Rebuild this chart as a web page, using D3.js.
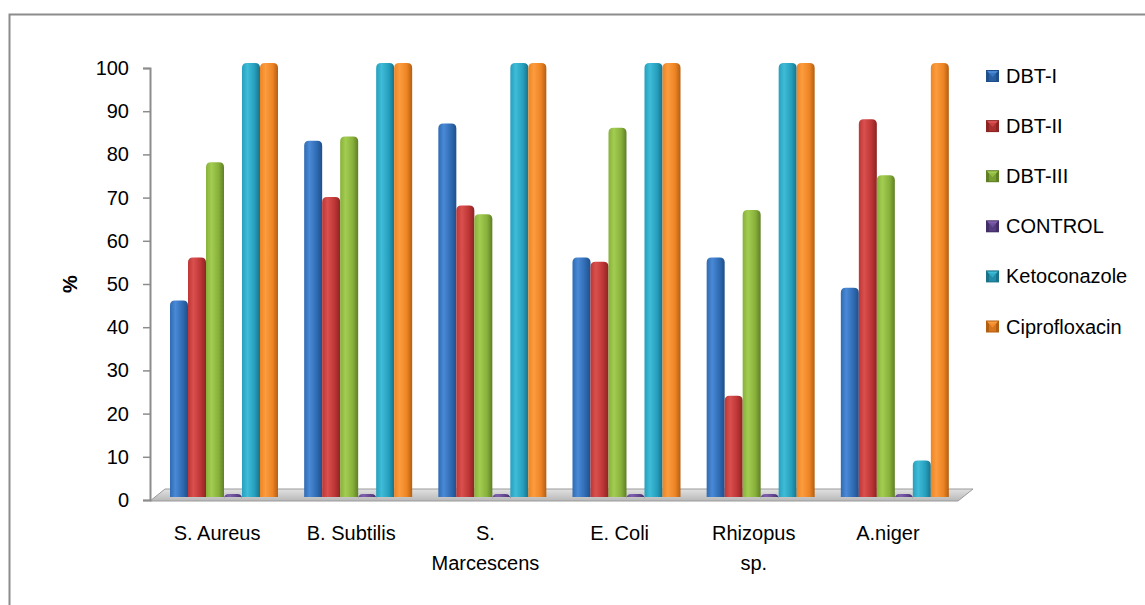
<!DOCTYPE html>
<meta charset="utf-8">
<script src="https://d3js.org/d3.v7.min.js"></script>
<style>
  body { margin: 0; background: #fff; }
  text { font-family: "Liberation Sans", Arial, sans-serif; fill: #000; }
</style>
<div id="chart"></div>
<script>
// data
var categories = ["S. Aureus", "B. Subtilis", "S. Marcescens", "E. Coli", "Rhizopus sp.", "A.niger"];
var series = ["DBT-I", "DBT-II", "DBT-III", "CONTROL", "Ketoconazole", "Ciprofloxacin"];
var dbt1   = [45, 82, 86, 55, 55, 48];
var dbt2   = [55, 69, 67, 54, 23, 87];
var dbt3   = [77, 83, 65, 85, 66, 74];
var control = [0, 0, 0, 0, 0, 0];
var keto   = [100, 100, 100, 100, 100, 8];
var cipro  = [100, 100, 100, 100, 100, 100];
var yTicks = [0, 10, 20, 30, 40, 50, 60, 70, 80, 90, 100];
// labels broken on two lines like the original
var catLines = [["S. Aureus"], ["B. Subtilis"], ["S.", "Marcescens"], ["E. Coli"], ["Rhizopus", "sp."], ["A.niger"]];

var values = [dbt1, dbt2, dbt3, control, keto, cipro];
var colors = [
  {base: "#2f6bb3", light: "#4a89d6", dark: "#1f4f8a"},
  {base: "#bd3535", light: "#d9504e", dark: "#8c2424"},
  {base: "#88b13b", light: "#a3cc52", dark: "#5f7f25"},
  {base: "#62458f", light: "#7f5fae", dark: "#432d66"},
  {base: "#259fbd", light: "#3fbcd8", dark: "#19728a"},
  {base: "#ee8424", light: "#fb9c3e", dark: "#b35f12"}
];

var W = 1145, H = 605;
var svg = d3.select("#chart").append("svg")
  .attr("width", W).attr("height", H);

var defs = svg.append("defs");
colors.forEach(function(c, i) {
  var g = defs.append("linearGradient").attr("id", "bar" + i)
    .attr("x1", "0%").attr("x2", "100%").attr("y1", "0%").attr("y2", "0%");
  g.append("stop").attr("offset", "0%").attr("stop-color", c.base);
  g.append("stop").attr("offset", "30%").attr("stop-color", c.light);
  g.append("stop").attr("offset", "70%").attr("stop-color", c.base);
  g.append("stop").attr("offset", "100%").attr("stop-color", c.dark);
});
var fg = defs.append("linearGradient").attr("id", "floor")
  .attr("x1", "0%").attr("x2", "0%").attr("y1", "0%").attr("y2", "100%");
fg.append("stop").attr("offset", "0%").attr("stop-color", "#e2e2e2");
fg.append("stop").attr("offset", "100%").attr("stop-color", "#b8b8b8");

// outer frame
svg.append("rect")
  .attr("x", 9.5).attr("y", 14.5).attr("width", 1200).attr("height", 700)
  .attr("fill", "none").attr("stroke", "#8c8c8c").attr("stroke-width", 2);

var x = d3.scaleBand().domain(categories).range([150, 955]);
var xs = d3.scaleBand().domain(series).range([20, 128]);
var y = d3.scaleLinear().domain([0, 100]).range([500, 68]);

// floor
var floorPts = [[150, 501], [958, 501], [973, 489], [165, 489]];
svg.append("path")
  .attr("d", d3.line()(floorPts) + "Z")
  .attr("fill", "url(#floor)").attr("stroke", "#9a9a9a").attr("stroke-width", 1);

// y axis
var yAxis = svg.append("g")
  .attr("transform", "translate(150,0)")
  .call(d3.axisLeft(y).tickValues(yTicks).tickSize(7).tickPadding(14));
yAxis.select(".domain").attr("stroke", "#8c8c8c").attr("stroke-width", 2);
yAxis.selectAll(".tick line").attr("stroke", "#8c8c8c").attr("stroke-width", 1.5);
yAxis.selectAll(".tick text").style("font-size", "20px").attr("fill", "#000");

svg.append("text")
  .attr("transform", "translate(77,284) rotate(-90)")
  .attr("text-anchor", "middle")
  .style("font-size", "20px").style("font-weight", "bold")
  .text("%");

// bars
var base = 497, lift = 5;
function barPath(x0, w, top) {
  var r = 5;
  if (base - top < 3) top = base - 3;
  return "M" + x0 + "," + base +
    "L" + x0 + "," + (top + r) +
    "Q" + x0 + "," + top + " " + (x0 + r) + "," + top +
    "L" + (x0 + w - r) + "," + top +
    "Q" + (x0 + w) + "," + top + " " + (x0 + w) + "," + (top + r) +
    "L" + (x0 + w) + "," + base + "Z";
}
var bars = [];
categories.forEach(function(cat, ci) {
  series.forEach(function(s, si) {
    bars.push({cat: cat, s: s, si: si, v: values[si][ci]});
  });
});
svg.append("g").selectAll("path")
  .data(bars)
  .join("path")
  .attr("d", function(d) {
    var top = d.v === 0 ? base - 3 : y(d.v) - lift;
    return barPath(x(d.cat) + xs(d.s), xs.bandwidth(), top);
  })
  .attr("fill", function(d) { return "url(#bar" + d.si + ")"; });

// category labels
var cl = svg.append("g").selectAll("text")
  .data(categories)
  .join("text")
  .attr("x", function(d) { return x(d) + x.bandwidth() / 2; })
  .attr("y", 540)
  .attr("text-anchor", "middle")
  .style("font-size", "20px");
cl.each(function(d, i) {
  var t = d3.select(this);
  catLines[i].forEach(function(line, li) {
    t.append("tspan")
      .attr("x", x(d) + x.bandwidth() / 2)
      .attr("dy", li === 0 ? 0 : 30)
      .text(line);
  });
});

// legend
var lg = svg.append("g").selectAll("g")
  .data(series)
  .join("g")
  .attr("transform", function(d, i) { return "translate(986," + (76 + i * 50.1) + ")"; });
lg.append("rect")
  .attr("x", 0).attr("y", -6).attr("width", 13).attr("height", 12)
  .attr("fill", function(d, i) { return colors[i].dark; });
lg.append("path")
  .attr("d", "M1,-5L12,-5L6.5,1Z")
  .attr("fill", function(d, i) { return colors[i].light; });
lg.append("path")
  .attr("d", "M3,-3L10,-3L10,5L3,5Z")
  .attr("fill", function(d, i) { return colors[i].base; })
  .attr("opacity", 0.6);
lg.append("text")
  .attr("x", 20).attr("y", 0).attr("dy", "0.35em")
  .style("font-size", "20px")
  .text(function(d) { return d; });
</script>
